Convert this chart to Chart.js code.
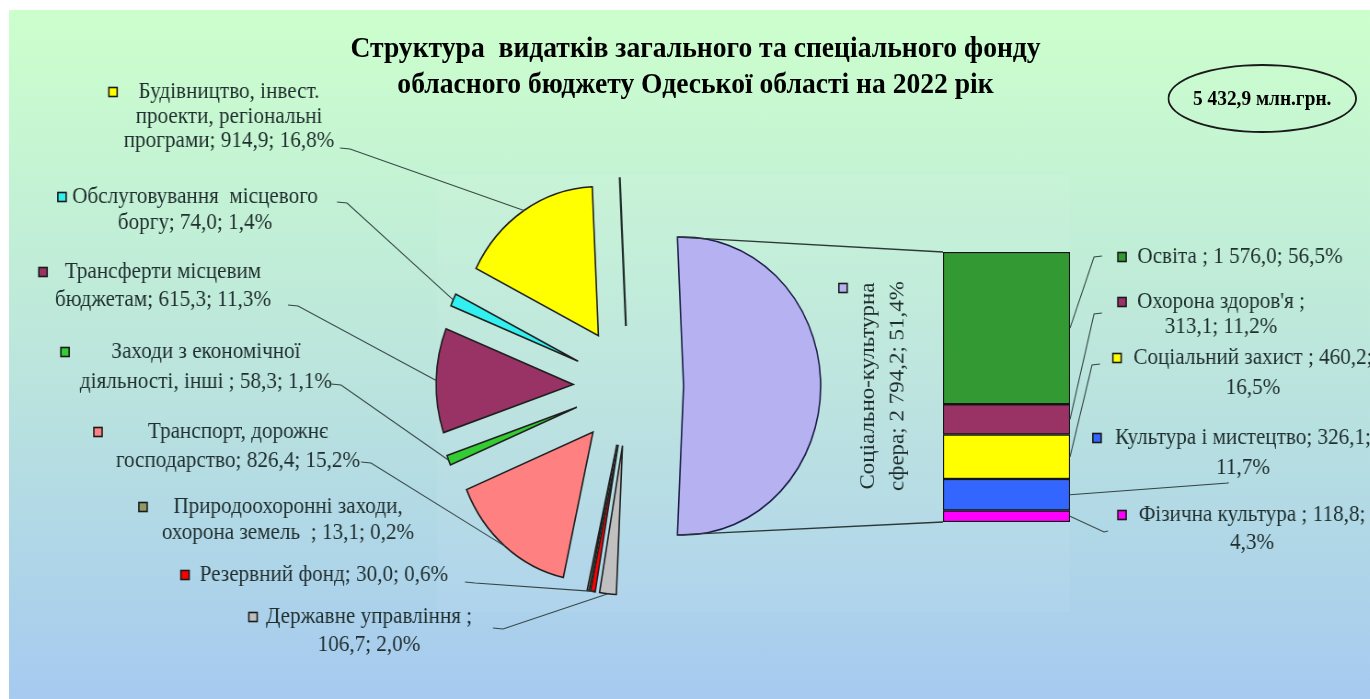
<!DOCTYPE html>
<html>
<head>
<meta charset="utf-8">
<script src="https://cdn.jsdelivr.net/npm/chart.js@4.4.0/dist/chart.umd.min.js"></script>
<style>
html,body{margin:0;padding:0;width:1370px;height:699px;overflow:hidden;background:#ffffff;}
#bg{position:absolute;left:9px;top:10px;width:1361px;height:689px;background:linear-gradient(to bottom,#CCFFCC 0%,#BCE6DC 50%,#A6CAF0 100%);}
#plotbg{position:absolute;left:437px;top:175px;width:633px;height:437px;background:rgba(255,255,255,0.06);}
#wrap{position:absolute;left:0;top:0;width:1490px;height:699px;transform:scaleX(0.92);transform-origin:0 0;}
#wrap canvas{position:absolute;left:0;top:0;}
#title{position:absolute;left:0;width:1512px;top:29px;text-align:center;font:bold 30px/36px "Liberation Serif",serif;color:#000;white-space:pre;}
#total{position:absolute;left:1269px;top:64px;width:202px;height:65px;border:2.5px solid #1a1a1a;border-radius:50%;display:flex;align-items:center;justify-content:center;font:bold 21px "Liberation Serif",serif;color:#000;}
</style>
</head>
<body>
<div id="bg"></div>
<div id="plotbg"></div>
<div id="wrap">
  <canvas id="barCanvas" width="1490" height="699"></canvas>
  <canvas id="pieCanvas" width="1490" height="699"></canvas>
  <div id="title"></div>
  <div id="total"></div>
</div>
<script>
// ---------------- DATA ----------------
const chartTitle = ["Структура  видатків загального та спеціального фонду", "обласного бюджету Одеської області на 2022 рік"];
const totalLabel = "5 432,9 млн.грн.";

const pieNames = [
  "Будівництво, інвест.\nпроекти, регіональні\nпрограми",
  "Обслуговування  місцевого\nборгу",
  "Трансферти місцевим\nбюджетам",
  "Заходи з економічної\nдіяльності, інші ",
  "Транспорт, дорожнє\nгосподарство",
  "Природоохоронні заходи,\nохорона земель  ",
  "Резервний фонд",
  "Державне управління "
];
const pieValues   = [914.9, 74.0, 615.3, 58.3, 826.4, 13.1, 30.0, 106.7];
const piePercents = [16.8, 1.4, 11.3, 1.1, 15.2, 0.2, 0.6, 2.0];
const zeroSliceValue = 0; // unlabeled empty slice (drawn by Excel as a line)

const socialName = "Соціально-культурна\nсфера";
const socialValue = 2794.2;
const socialPercent = 51.4;

const barNames    = ["Освіта ", "Охорона здоров'я ", "Соціальний захист ", "Культура і мистецтво", "Фізична культура "];
const barValues   = [1576.0, 313.1, 460.2, 326.1, 118.8];
const barPercents = [56.5, 11.2, 16.5, 11.7, 4.3];

// ---------------- STYLE / LAYOUT ----------------
const S = 0.92;                 // horizontal compression of the original picture
const X = v => v / S;           // screen x -> internal x
const pieColors = ["#FFFF00", "#33F0F0", "#993366", "#33CC33", "#FF8080", "#8F9966", "#FF0000", "#C0C0C0"];
const socialColor = "#B6B2F2";
const zeroColor = "#FFFFFF";
const barColors = ["#339933", "#993366", "#FFFF00", "#3366FF", "#FF00FF"];
const EXPLODE = 60, RADIUS = 149;
const PIE_CX = 683, PIE_CY = 386, W = 1490, H = 699;
const BAR_L = X(943), BAR_R = X(1070), BAR_T = 252, BAR_B = 522;
const labelFont = '23px "Liberation Serif", serif';
const textColor = "#1f2e2e";
const leaderColor = "#344444";

// label layout in screen pixels: marker pos, text centre x, first line y, line height, leader start, line breaks
const pieLabelPos = [
  {mx:113, my:92,  cx:229, y:92,  lh:24.5, lead:[340,148], brA:0, brB:0},
  {mx:62,  my:197, cx:195, y:197, lh:26,   lead:[337,202], brA:0, brB:0},
  {mx:43,  my:272, cx:163, y:272, lh:28,   lead:[288,305], brA:0, brB:0},
  {mx:65,  my:352, cx:206, y:352, lh:30,   lead:[331,384], brA:0, brB:0},
  {mx:98,  my:432, cx:238, y:432, lh:29,   lead:[361,462], brA:0, brB:0},
  {mx:143, my:507, cx:288, y:507, lh:26,   lead:null,      brA:0, brB:0},
  {mx:185, my:575, cx:324, y:575, lh:26,   lead:[465,582], brA:0, brB:0},
  {mx:253, my:617, cx:369, y:617, lh:28,   lead:[493,628], brA:1, brB:0}
];
const barLabelPos = [
  {mx:1122, my:257, cx:1240, y:257, lh:26, lead:[1102,256], sh:8, brA:0, brB:0},
  {mx:1122, my:302, cx:1221, y:302, lh:25, lead:[1102,313], sh:8, brA:1, brB:0},
  {mx:1117, my:358, cx:1253, y:358, lh:30, lead:[1100,364], sh:8, brA:0, brB:1},
  {mx:1097, my:438, cx:1243, y:438, lh:30, lead:[1228,482], sh:0, brA:0, brB:1},
  {mx:1122, my:515, cx:1252, y:515, lh:28, lead:[1108,531], sh:4, brA:0, brB:1}
];
const socialLabelPos = {mx:843, my:288, x0:868, dx:30, cy:386};

// ---------------- HELPERS ----------------
function fmtNum(v){ const p = v.toFixed(1).split('.'); return p[0].replace(/\B(?=(\d{3})+(?!\d))/g,' ') + ',' + p[1]; }
function fmtPct(p){ return p.toFixed(1).replace('.',',') + '%'; }
function labelText(name, v, p, brA, brB){ return name + (brA ? ';\n' : '; ') + fmtNum(v) + (brB ? ';\n' : '; ') + fmtPct(p); }
function marker(ctx, x, y, color){
  ctx.save(); ctx.fillStyle = color; ctx.strokeStyle = "#1a1a1a"; ctx.lineWidth = 1.6;
  ctx.fillRect(x-4.5, y-4.5, 9, 9); ctx.strokeRect(x-4.5, y-4.5, 9, 9); ctx.restore();
}

document.getElementById('title').textContent = chartTitle.join('\n');
document.getElementById('total').textContent = totalLabel;

// ---------------- BAR (second plot) ----------------
const barTotal = barValues.reduce((a,b)=>a+b,0);
const barChart = new Chart(document.getElementById('barCanvas'), {
  type: 'bar',
  data: {
    labels: [''],
    datasets: barNames.map((n,i)=>({
      label: n, data: [barValues[i]], backgroundColor: barColors[i],
      borderColor: '#151515', borderWidth: 1.5, borderSkipped: false,
      barPercentage: 1, categoryPercentage: 1
    }))
  },
  options: {
    responsive: false, animation: false, events: [],
    layout: { padding: { left: BAR_L, right: W - BAR_R, top: BAR_T, bottom: H - BAR_B } },
    scales: {
      x: { display: false, stacked: true },
      y: { display: false, stacked: true, reverse: true, min: 0, max: barTotal }
    },
    plugins: { legend: { display: false }, tooltip: { enabled: false } }
  }
});

// ---------------- PIE ----------------
const pieTotal = pieValues.reduce((a,b)=>a+b,0) + socialValue + zeroSliceValue;
const socialAngle = socialValue / pieTotal * 360;
// order clockwise starting at the social slice (centred on 3 o'clock)
const orderIdx = pieValues.map((_,i)=>i).reverse();
const pieData = [socialValue, ...orderIdx.map(i=>pieValues[i]), zeroSliceValue];
const pieBg = [socialColor, ...orderIdx.map(i=>pieColors[i]), zeroColor];
const pieBorder = ["#1c1c48", ...orderIdx.map(()=> "#1e1e1e"), "#1e1e1e"];

const explodePlugin = {
  id: 'explode',
  beforeDatasetsDraw(chart){
    const ca = chart.chartArea, cx = (ca.left+ca.right)/2, cy = (ca.top+ca.bottom)/2;
    chart.getDatasetMeta(0).data.forEach(arc=>{
      const mid = (arc.startAngle + arc.endAngle)/2;
      arc.x = cx + EXPLODE*Math.cos(mid);
      arc.y = cy + EXPLODE*Math.sin(mid);
    });
  }
};

const labelPlugin = {
  id: 'barOfPieLabels',
  afterDatasetsDraw(chart){
    const ctx = chart.ctx;
    const arcs = chart.getDatasetMeta(0).data;
    ctx.save();
    // zero-value slice -> line
    arcs.forEach((arc,k)=>{
      if (pieData[k] === 0){
        ctx.strokeStyle = "#1e2a2a"; ctx.lineWidth = 2.2;
        ctx.beginPath(); ctx.moveTo(arc.x, arc.y);
        ctx.lineTo(arc.x + arc.outerRadius*Math.cos(arc.startAngle), arc.y + arc.outerRadius*Math.sin(arc.startAngle));
        ctx.stroke();
      }
    });
    // connector lines social slice -> bar
    const soc = arcs[0];
    const segs = barChart.data.datasets.map((d,i)=>{
      const el = barChart.getDatasetMeta(i).data[0];
      return {top: Math.min(el.y, el.base), bot: Math.max(el.y, el.base), left: el.x - el.width/2, right: el.x + el.width/2};
    });
    ctx.strokeStyle = "#2c3838"; ctx.lineWidth = 1.3;
    ctx.beginPath();
    ctx.moveTo(soc.x + soc.outerRadius*Math.cos(soc.startAngle), soc.y + soc.outerRadius*Math.sin(soc.startAngle));
    ctx.lineTo(segs[0].left, segs[0].top);
    ctx.moveTo(soc.x + soc.outerRadius*Math.cos(soc.endAngle), soc.y + soc.outerRadius*Math.sin(soc.endAngle));
    ctx.lineTo(segs[segs.length-1].left, segs[segs.length-1].bot);
    ctx.stroke();

    ctx.font = labelFont; ctx.fillStyle = textColor; ctx.textAlign = 'center'; ctx.textBaseline = 'middle';
    // pie labels
    pieLabelPos.forEach((L,i)=>{
      const arc = arcs[1 + (pieValues.length - 1 - i)];
      if (L.lead){
        const mid = (arc.startAngle + arc.endAngle)/2;
        const px = arc.x + arc.outerRadius*Math.cos(mid), py = arc.y + arc.outerRadius*Math.sin(mid);
        ctx.strokeStyle = leaderColor; ctx.lineWidth = 1.1;
        ctx.beginPath(); ctx.moveTo(X(L.lead[0]), L.lead[1]); ctx.lineTo(X(L.lead[0]+10), L.lead[1]+1); ctx.lineTo(px, py); ctx.stroke();
      }
      marker(ctx, X(L.mx), L.my, pieColors[i]);
      ctx.fillStyle = textColor;
      labelText(pieNames[i], pieValues[i], piePercents[i], L.brA, L.brB).split('\n')
        .forEach((t,j)=>ctx.fillText(t, X(L.cx), L.y + j*L.lh));
    });
    // bar labels
    barLabelPos.forEach((L,i)=>{
      const sg = segs[i];
      const px = sg.right, py = (sg.top + sg.bot)/2;
      ctx.strokeStyle = leaderColor; ctx.lineWidth = 1.1;
      ctx.beginPath(); ctx.moveTo(X(L.lead[0]), L.lead[1]); ctx.lineTo(X(L.lead[0]-L.sh), L.lead[1]+1); ctx.lineTo(px, py); ctx.stroke();
      marker(ctx, X(L.mx), L.my, barColors[i]);
      ctx.fillStyle = textColor;
      labelText(barNames[i], barValues[i], barPercents[i], L.brA, L.brB).split('\n')
        .forEach((t,j)=>ctx.fillText(t, X(L.cx), L.y + j*L.lh));
    });
    // social (rotated) label
    const SL = socialLabelPos;
    marker(ctx, X(SL.mx), SL.my, socialColor);
    ctx.fillStyle = textColor;
    labelText(socialName, socialValue, socialPercent, 0, 0).split('\n').forEach((t,j)=>{
      ctx.save(); ctx.translate(X(SL.x0 + j*SL.dx), SL.cy); ctx.rotate(-Math.PI/2);
      ctx.fillText(t, 0, 0); ctx.restore();
    });
    ctx.restore();
  }
};

new Chart(document.getElementById('pieCanvas'), {
  type: 'pie',
  data: {
    labels: ["Соціально-культурна сфера", ...orderIdx.map(i=>pieNames[i].replace(/\n/g,' ')), ""],
    datasets: [{
      data: pieData, backgroundColor: pieBg, borderColor: pieBorder,
      borderWidth: 1.6, borderJoinStyle: 'miter'
    }]
  },
  options: {
    responsive: false, animation: false, events: [],
    rotation: 90 - socialAngle/2, radius: RADIUS,
    layout: { padding: { left: 0, right: W - 2*PIE_CX, top: 2*PIE_CY - H, bottom: 0 } },
    plugins: { legend: { display: false }, tooltip: { enabled: false }, title: { display: false } }
  },
  plugins: [explodePlugin, labelPlugin]
});
</script>
</body>
</html>
